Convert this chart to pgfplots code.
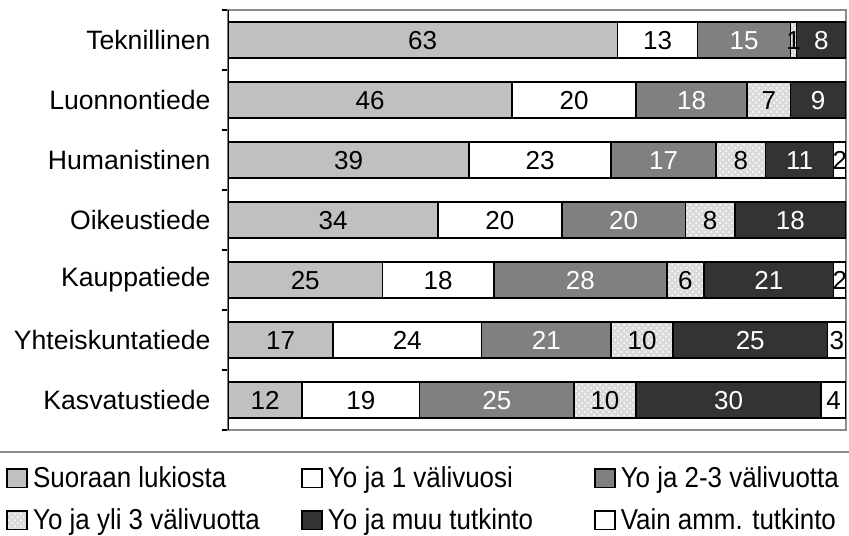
\documentclass[border=0pt]{standalone}
\usepackage{fontspec}
\setmainfont{Liberation Sans}
\newfontfamily\legfont[FakeStretch=0.9]{Liberation Sans}
\usepackage{pgfplots}
\pgfplotsset{compat=1.18}
\usetikzlibrary{patterns}

\definecolor{cLuk}{HTML}{C0C0C0}
\definecolor{cMid}{HTML}{808080}
\definecolor{cDot}{HTML}{DADADA}
\definecolor{cDark}{HTML}{333333}
\definecolor{cFrame}{HTML}{8C8C8C}

\begin{document}
\begin{tikzpicture}[font=\fontsize{13.3}{16}\selectfont]
\path[use as bounding box] (-114pt,-52.5pt) rectangle (310.5pt,215pt);
\begin{axis}[
    scale only axis,
    width=309pt, height=210pt,
    xbar stacked,
    bar width=0.6,
    xmin=0, xmax=100,
    ymin=-0.5, ymax=6.5,
    y dir=reverse,
    xtick=\empty,
    ytick={0,...,6},
    yticklabels={Teknillinen,Luonnontiede,Humanistinen,Oikeustiede,Kauppatiede,Yhteiskuntatiede,Kasvatustiede},
    minor ytick={-0.5,0.5,...,6.5},
    major tick length=0pt,
    minor tick length=3pt,
    tick align=outside,
    ytick pos=left,
    ytick style={black, line width=0.8pt},
    yticklabel style={xshift=-5.2pt},
    axis line style={cFrame, line width=0.8pt},
    every axis plot/.append style={draw=black, line width=0.8pt},
    nodes near coords,
    point meta=explicit symbolic,
    every node near coord/.append style={anchor=center, text=black,
        text height=9.3pt, text depth=0pt,
        font=\fontsize{13}{15.6}\selectfont},
    legend image code/.code={\draw[#1,draw=black,line width=0.8pt] (0pt,-4.6pt) rectangle (10pt,4.6pt);},
    legend columns=3,
    legend cell align=left,
    legend style={draw=none, fill=none, at={(0,0)}, anchor=north west,
        xshift=-114pt, yshift=-14pt, row sep=5pt,
        nodes={inner xsep=1.6pt},
        font=\legfont\fontsize{14.4}{17}\selectfont},
]
\addplot[fill=cLuk] coordinates {
    (63,0) [63] (46,1) [46] (39,2) [39] (34,3) [34]
    (25,4) [25] (17,5) [17] (12,6) [12]
};
\addlegendentry{\makebox[133.4pt][l]{\hspace{1pt}Suoraan lukiosta}}
\addplot[fill=white] coordinates {
    (13,0) [13] (20,1) [20] (23,2) [23] (20,3) [20]
    (18,4) [18] (24,5) [24] (19,6) [19]
};
\addlegendentry{\makebox[132.4pt][l]{\hspace{1pt}Yo ja 1 välivuosi}}
\addplot[fill=cMid, every node near coord/.append style={text=white}] coordinates {
    (15,0) [15] (18,1) [18] (17,2) [17] (20,3) [20]
    (28,4) [28] (21,5) [21] (25,6) [25]
};
\addlegendentry{\hspace{1pt}Yo ja 2-3 välivuotta}
\addplot[fill=cDot, postaction={pattern=crosshatch dots, pattern color=white}] coordinates {
    (1,0) [1] (7,1) [7] (8,2) [8] (8,3) [8]
    (6,4) [6] (10,5) [10] (10,6) [10]
};
\addlegendentry{\makebox[133.4pt][l]{\hspace{1pt}Yo ja yli 3 välivuotta}}
\addplot[fill=cDark, every node near coord/.append style={text=white}] coordinates {
    (8,0) [8] (9,1) [9] (11,2) [11] (18,3) [18]
    (21,4) [21] (25,5) [25] (30,6) [30]
};
\addlegendentry{\makebox[132.4pt][l]{\hspace{1pt}Yo ja muu tutkinto}}
\addplot[fill=white] coordinates {
    (0,0) [] (0,1) [] (2,2) [2] (0,3) []
    (2,4) [2] (3,5) [3] (4,6) [4]
};
\addlegendentry{\hspace{1pt}Vain amm. tutkinto}
\draw[black, line width=0.8pt] (axis description cs:0,0) -- (axis description cs:0,1);
\end{axis}
\draw[cFrame, line width=0.8pt] (-114pt,-11pt) -- (310.5pt,-11pt);
\end{tikzpicture}
\end{document}
